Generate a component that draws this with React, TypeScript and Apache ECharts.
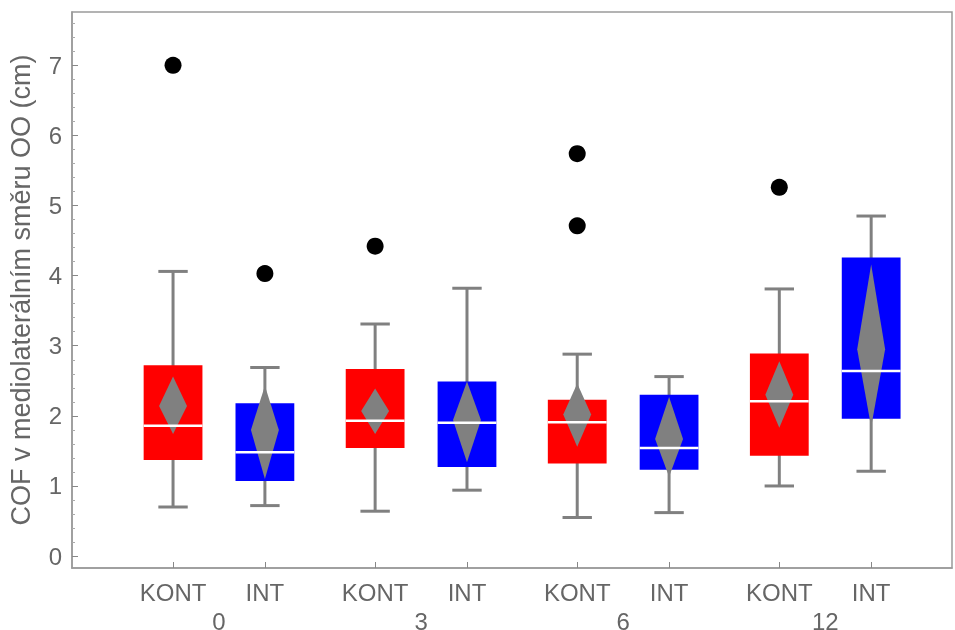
import React, { useEffect, useRef } from "react";
import * as echarts from "echarts";

const positions = [0, 1, 2.2, 3.2, 4.4, 5.4, 6.6, 7.6];
const tickLabels = ["KONT", "INT", "KONT", "INT", "KONT", "INT", "KONT", "INT"];
const groupLabels = ["0", "3", "6", "12"];
const groupCenters = [0.5, 2.7, 4.9, 7.1];
const yTicks = [0, 1, 2, 3, 4, 5, 6, 7];

const whiskerLow = [0.7, 0.72, 0.64, 0.94, 0.55, 0.62, 1.0, 1.21];
const q1 = [1.37, 1.07, 1.54, 1.27, 1.32, 1.23, 1.43, 1.96];
const median = [1.86, 1.48, 1.93, 1.9, 1.91, 1.54, 2.21, 2.64];
const q3 = [2.72, 2.18, 2.67, 2.49, 2.23, 2.3, 2.89, 4.26];
const whiskerHigh = [4.06, 2.69, 3.31, 3.82, 2.88, 2.56, 3.81, 4.85];
const meanVal = [2.14, 1.8, 2.07, 1.94, 2.02, 1.67, 2.3, 2.95];
const diamondLow = [1.74, 1.1, 1.74, 1.34, 1.56, 1.13, 1.83, 1.84];
const diamondHigh = [2.56, 2.43, 2.39, 2.49, 2.46, 2.27, 2.78, 4.16];

const outlierBox = [0, 1, 2, 4, 4, 6];
const outlierValues = [7.0, 4.03, 4.42, 5.74, 4.71, 5.26];

const minorTicks: number[] = [];
for (let i = 0; i <= 7; i++) {
  for (let j = 1; j < 5; j++) minorTicks.push(i + j * 0.2);
}

export default function App() {
  const ref = useRef<HTMLDivElement>(null);
  useEffect(() => {
    if (!ref.current) return;
    const chart = echarts.init(ref.current, null, { renderer: "svg" });
    const boxData = positions.map((p, i) => [
      p, whiskerLow[i], q1[i], median[i], q3[i], whiskerHigh[i],
      diamondLow[i], meanVal[i], diamondHigh[i], i % 2,
    ]);
    const outData = outlierBox.map((b, i) => [positions[b], outlierValues[i]]);
    const textColor = "#666";
    const font = "Liberation Sans, Arial, sans-serif";
    const labelFor = (v: number) => {
      const idx = positions.findIndex((p) => Math.abs(p - v) < 1e-6);
      return idx >= 0 ? tickLabels[idx] : "";
    };
    const groupFor = (v: number) => {
      const idx = groupCenters.findIndex((p) => Math.abs(p - v) < 1e-6);
      return idx >= 0 ? groupLabels[idx] : "";
    };
    chart.setOption({
      animation: false,
      grid: {
        left: 72, right: 3, top: 12, bottom: 62,
        outerBoundsMode: "none", containLabel: false,
        show: true, borderColor: "#9a9a9a", borderWidth: 1.5,
      },
      xAxis: [
        {
          type: "value", min: -1.1, max: 8.48,
          splitLine: { show: false },
          axisLine: { show: true, onZero: false, lineStyle: { color: "#9a9a9a", width: 1.5 } },
          axisTick: { show: true, inside: true, length: 6, customValues: positions, lineStyle: { color: "#888" } },
          axisLabel: {
            customValues: positions, formatter: labelFor,
            color: textColor, fontSize: 24, fontFamily: font, margin: 12,
          },
        },
        {
          type: "value", min: -1.1, max: 8.48, position: "bottom", offset: 29,
          splitLine: { show: false },
          axisLine: { show: false, onZero: false },
          axisTick: { show: false },
          axisLabel: {
            customValues: groupCenters, formatter: groupFor,
            color: textColor, fontSize: 24, fontFamily: font, margin: 12,
          },
        },
      ],
      yAxis: [
        {
          type: "value", min: -0.17, max: 7.76,
          name: "COF v mediolaterálním směru OO (cm)",
          nameLocation: "middle", nameGap: 38, nameRotate: 90,
          nameTextStyle: { color: textColor, fontSize: 27, fontFamily: font },
          splitLine: { show: false },
          axisLine: { show: true, onZero: false, lineStyle: { color: "#9a9a9a", width: 1.5 } },
          axisTick: { show: true, inside: true, length: 6, customValues: yTicks, lineStyle: { color: "#888" } },
          axisLabel: {
            customValues: yTicks, color: textColor, fontSize: 24,
            fontFamily: font, margin: 10,
          },
        },
        {
          type: "value", min: -0.17, max: 7.76, position: "left",
          splitLine: { show: false },
          axisLine: { show: false, onZero: false },
          axisTick: { show: true, inside: true, length: 3, customValues: minorTicks, lineStyle: { color: "#aaa" } },
          axisLabel: { show: false },
        },
      ],
      series: [
        {
          type: "custom",
          xAxisIndex: 0, yAxisIndex: 0,
          data: boxData,
          renderItem: (params: any, api: any) => {
            const x = api.value(0);
            const wl = api.coord([x, api.value(1)]);
            const b1 = api.coord([x, api.value(2)]);
            const md = api.coord([x, api.value(3)]);
            const b3 = api.coord([x, api.value(4)]);
            const wh = api.coord([x, api.value(5)]);
            const dl = api.coord([x, api.value(6)]);
            const mn = api.coord([x, api.value(7)]);
            const dh = api.coord([x, api.value(8)]);
            const unit = api.size([1, 0])[0];
            const boxHalf = unit * 0.32;
            const capHalf = unit * 0.16;
            const diaHalf = unit * 0.152;
            const color = api.value(9) === 0 ? "#ff0000" : "#0000ff";
            const gray = "#808080";
            const cx = wl[0];
            return {
              type: "group",
              children: [
                { type: "line", shape: { x1: cx, y1: wl[1], x2: cx, y2: wh[1] }, style: { stroke: gray, lineWidth: 3 } },
                { type: "line", shape: { x1: cx - capHalf, y1: wl[1], x2: cx + capHalf, y2: wl[1] }, style: { stroke: gray, lineWidth: 3 } },
                { type: "line", shape: { x1: cx - capHalf, y1: wh[1], x2: cx + capHalf, y2: wh[1] }, style: { stroke: gray, lineWidth: 3 } },
                { type: "rect", shape: { x: cx - boxHalf, y: b3[1], width: boxHalf * 2, height: b1[1] - b3[1] }, style: { fill: color } },
                {
                  type: "polygon",
                  shape: { points: [[cx, dh[1]], [cx + diaHalf, mn[1]], [cx, dl[1]], [cx - diaHalf, mn[1]]] },
                  style: { fill: gray },
                },
                { type: "line", shape: { x1: cx - boxHalf, y1: md[1], x2: cx + boxHalf, y2: md[1] }, style: { stroke: "#ffffff", lineWidth: 2.5 } },
              ],
            };
          },
        },
        {
          type: "scatter",
          xAxisIndex: 0, yAxisIndex: 0,
          data: outData,
          symbol: "circle",
          symbolSize: 17,
          itemStyle: { color: "#000", opacity: 1 },
        },
      ],
    });
    return () => chart.dispose();
  }, []);
  return <div ref={ref} style={{ position: "fixed", left: 0, top: 0, width: 955, height: 630 }} />;
}
